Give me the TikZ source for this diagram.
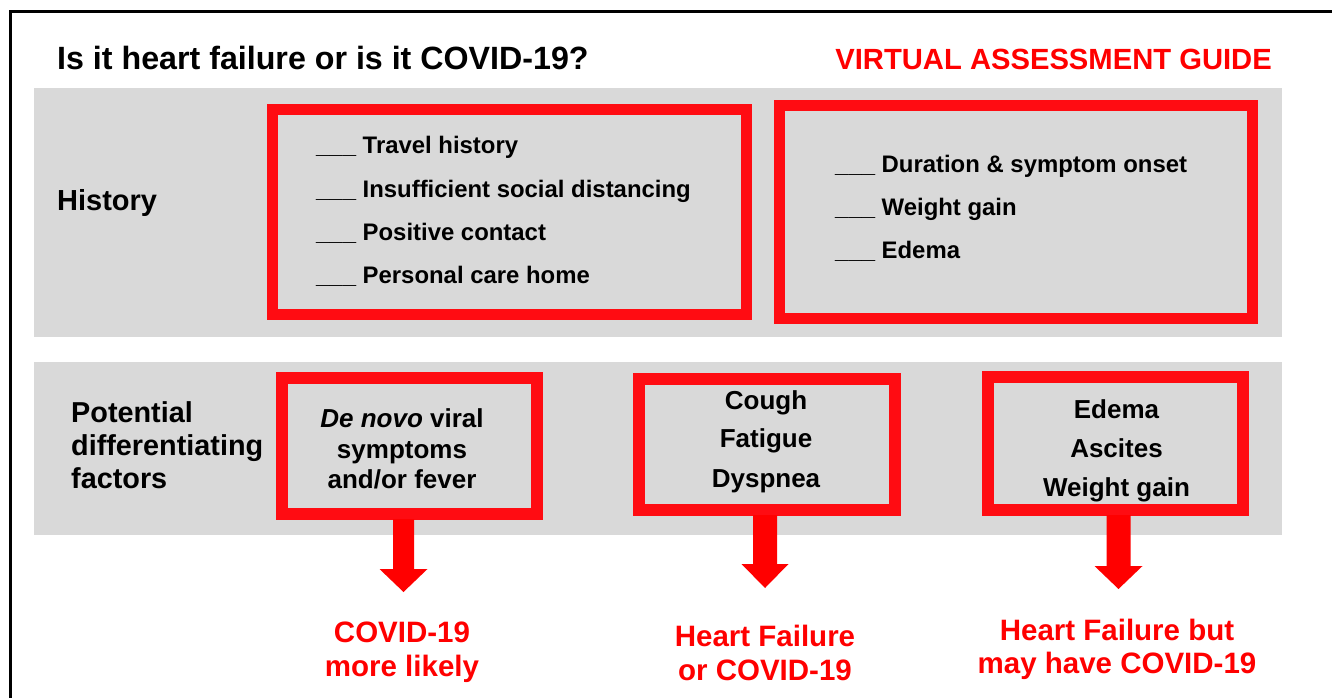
\documentclass[tikz,border=0pt]{standalone}
\usepackage{fontspec}
\setmainfont{Liberation Sans}
\usetikzlibrary{calc}
\definecolor{bandgray}{RGB}{217,217,217}
\definecolor{boxred}{RGB}{255,12,18}
\definecolor{arrred}{RGB}{255,0,0}
\definecolor{txtred}{RGB}{255,0,0}
\newcommand\blkarrow[5]{% box, tip, shaft half, head half, head height
  \fill[arrred] ($(#1.south -| #2)+(-#3,-1)$) -- ($(#1.south -| #2)+(#3,-1)$)
    -- ($(#2)+(#3,-#5)$) -- ($(#2)+(#4,-#5)$) -- (#2)
    -- ($(#2)+(-#4,-#5)$) -- ($(#2)+(-#3,-#5)$) -- cycle;}
\begin{document}
\begin{tikzpicture}[x=1pt,y=-1pt,
  band/.style={fill=bandgray, inner sep=0pt, outer sep=0pt},
  redbox/.style={draw=boxred, line width=#1, inner sep=0pt},
  lbl/.style={inner sep=0pt, anchor=base west, font=\fontsize{#1}{#1}\selectfont\bfseries},
  ctr/.style={inner sep=0pt, anchor=base, font=\fontsize{#1}{#1}\selectfont\bfseries},
  res/.style={inner sep=0pt, anchor=base, text=txtred, font=\fontsize{29.5}{30}\selectfont\bfseries}]
\useasboundingbox (0,0) rectangle (1332,698);
\fill[white] (0,0) rectangle (1332,698);
\draw[line width=2.5pt] (10.3,700) -- (10.3,11.5) -- (1334,11.5);

% bands
\node[band, minimum width=1248, minimum height=249] (hist) at (658,212.5) {};
\node[band, minimum width=1248, minimum height=173] (fact) at (658,448.5) {};

% title
\node[lbl=32.2] (title) at (57,70) {Is it heart failure or is it COVID-19?};
\node[lbl=29.2, anchor=base east, text=txtred] (vag) at (1272,70) {VIRTUAL ASSESSMENT GUIDE};

% history
\node[lbl=29] (histlbl) at (57,210) {History};
\node[redbox=11, minimum width=474, minimum height=205] (h1) at (509.5,212) {};
\node[redbox=11, minimum width=473, minimum height=213] (h2) at (1016,212) {};
\node[lbl=23.9] (h1a) at (316,153) {\_\_\_ Travel history};
\node[lbl=23.9] (h1b) at (316,197) {\_\_\_ Insufficient social distancing};
\node[lbl=23.9] (h1c) at (316,240) {\_\_\_ Positive contact};
\node[lbl=23.9] (h1d) at (316,283) {\_\_\_ Personal care home};
\node[lbl=23.9] (h2a) at (835,172) {\_\_\_ Duration \& symptom onset};
\node[lbl=23.9] (h2b) at (835,215) {\_\_\_ Weight gain};
\node[lbl=23.9] (h2c) at (835,258) {\_\_\_ Edema};

% factors
\node[lbl=28.8] (fl1) at (71,422) {Potential};
\node[lbl=28.8] (fl2) at (71,455) {differentiating};
\node[lbl=28.8] (fl3) at (71,488) {factors};

\node[redbox=12, minimum width=255, minimum height=136] (f1) at (409.5,446) {};
\node[redbox=12, minimum width=256, minimum height=131] (f2) at (767,444.5) {};
\node[redbox=12, minimum width=255, minimum height=133] (f3) at (1115.5,443.5) {};

\node[ctr=26] (f1a) at (402,427) {\textit{De novo} viral};
\node[ctr=26] (f1b) at (402,458) {symptoms};
\node[ctr=26] (f1c) at (402,488) {and/or fever};
\node[ctr=26] (f2a) at (766,409) {Cough};
\node[ctr=26] (f2b) at (766,447) {Fatigue};
\node[ctr=26] (f2c) at (766,487) {Dyspnea};
\node[ctr=26] (f3a) at (1116.5,418) {Edema};
\node[ctr=26] (f3b) at (1116.5,457) {Ascites};
\node[ctr=26] (f3c) at (1116.5,496) {Weight gain};

% arrows
\coordinate (t1) at (403.5,592);
\coordinate (t2) at (765,588);
\coordinate (t3) at (1118.5,589);
\blkarrow{f1}{t1}{10.5}{24}{23}
\blkarrow{f2}{t2}{12}{23.5}{24}
\blkarrow{f3}{t3}{12}{24}{23}

% results
\node[res] (r1a) at (402,642) {COVID-19};
\node[res] (r1b) at (402,676) {more likely};
\node[res] (r2a) at (765,646) {Heart Failure};
\node[res] (r2b) at (765,680) {or COVID-19};
\node[res] (r3a) at (1117,640) {Heart Failure but};
\node[res] (r3b) at (1117,673) {may have COVID-19};
\end{tikzpicture}
\end{document}
